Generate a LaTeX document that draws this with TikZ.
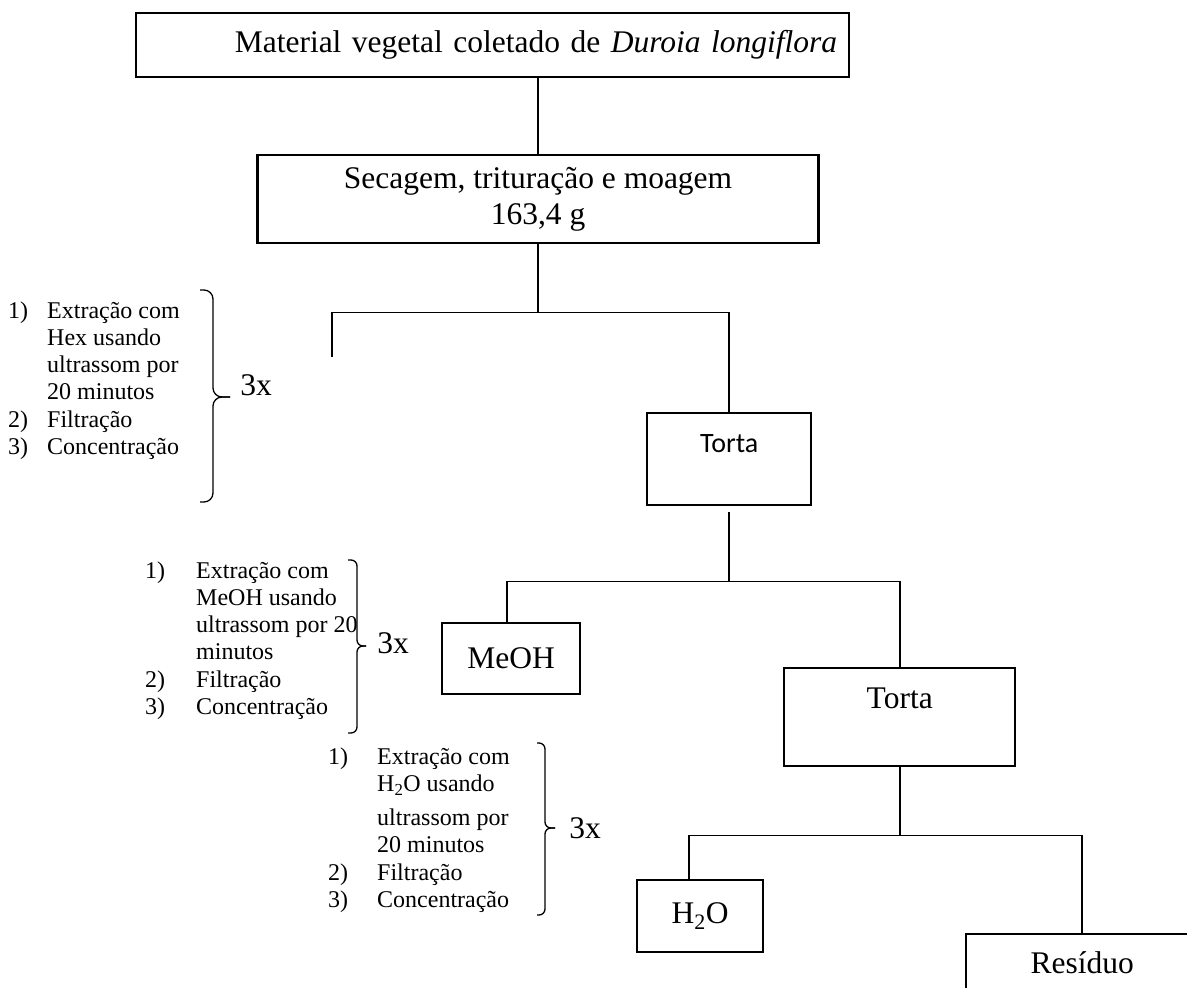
\documentclass[tikz,border=0pt]{standalone}
\usepackage{fontspec}
\setmainfont{Liberation Serif}
\newfontfamily\calfont{Carlito}
\newcommand\boxfont{\fontsize{31.5}{36}\selectfont}
\newcommand\notefont{\fontsize{24}{27.2}\selectfont}
\tikzset{
  box/.style={draw, line width=2.4pt, inner sep=0pt, font=\boxfont},
  link/.style={line width=1.8pt},
  note/.style={inner sep=0pt, font=\notefont, anchor=north west},
  curly/.style={line width=1.3pt, rounded corners=#1},
  times/.style={inner sep=0pt, font=\boxfont}
}

\begin{document}
\begin{tikzpicture}[x=1pt, y=-1pt]
  \useasboundingbox[fill=white] (0,0) rectangle (1187,988);
  \clip (0,0) rectangle (1187,988);

  % caixas
  \node[box, anchor=north west, minimum width=713pt, minimum height=64pt,
        inner xsep=12pt, text width=689pt, align=right] (mat) at (135,12)
        {Material vegetal coletado de \textit{Duroia longiflora}};
  \node[box, anchor=north, minimum width=561pt, minimum height=88pt, align=center] (sec) at (538,154)
        {Secagem, trituração e moagem\\163,4 g};
  \node[box, anchor=north west, font=\calfont\fontsize{28}{32}\selectfont, minimum width=164pt,
        text height=39pt, text depth=53pt] (t1) at (646,412) {Torta};
  \node[box, anchor=north west, minimum width=138pt, minimum height=71pt] (meoh) at (441,622) {MeOH};
  \node[box, anchor=north west, minimum width=231pt, text height=40.5pt, text depth=57.5pt] (t2) at (783,667) {Torta};
  \node[box, anchor=north west, minimum width=126pt, minimum height=72pt] (h2o) at (636,879) {H\textsubscript{2}O};
  \node[box, anchor=north west, minimum width=232pt, text height=39.5pt, text depth=40pt] (res) at (965,933) {Resíduo};

  % ligacoes
  \coordinate (hexend) at (332,357);
  \draw[link] (mat.south -| sec.north) -- (sec.north);
  \draw[link] (sec.south) -- ++(0,68) coordinate (bar1) -| (hexend);
  \draw[link] (bar1) -| (t1.north);
  \draw[link, shorten <=6pt] (t1.south) -- ++(0,75) coordinate (bar2) -| ([xshift=-4pt]meoh.north);
  \draw[link] (bar2) -| (t2.north);
  \draw[link] (t2.south) -- ++(0,68) coordinate (bar3) -| ([xshift=-11pt]h2o.north);
  \draw[link] (bar3) -| (res.north);

  % etapas
  \node[note] (hexsteps) at (8,299) {\begin{tabular}{@{}p{39pt}@{}l@{}}
    1) & Extração com\\ & Hex usando\\ & ultrassom por\\ & 20 minutos\\
    2) & Filtração\\ 3) & Concentração\end{tabular}};
  \node[note] (meohsteps) at (145,559) {\begin{tabular}{@{}p{51pt}@{}l@{}}
    1) & Extração com\\ & MeOH usando\\ & ultrassom por 20\\ & minutos\\
    2) & Filtração\\ 3) & Concentração\end{tabular}};
  \node[note] (h2osteps) at (328,745) {\begin{tabular}{@{}p{49pt}@{}l@{}}
    1) & Extração com\\ & H\textsubscript{2}O usando\\[7pt] & ultrassom por\\ & 20 minutos\\
    2) & Filtração\\ 3) & Concentração\end{tabular}};

  % chaves
  \draw[curly=9pt] (200,290) -| (213,397) -- (230,397);
  \draw[curly=9pt] (200,502) -| (213,397) -- (230,397);
  \draw[curly=6pt] (348,560) -| (357,646) -- (366,646);
  \draw[curly=6pt] (348,733) -| (357,646) -- (366,646);
  \draw[curly=6pt] (537,743) -| (545,828) -- (555,828);
  \draw[curly=6pt] (537,915) -| (545,828) -- (555,828);
  \node[times] (rep1) at (256,385) {3x};
  \node[times] (rep2) at (393,643) {3x};
  \node[times] (rep3) at (585,828) {3x};
\end{tikzpicture}
\end{document}
